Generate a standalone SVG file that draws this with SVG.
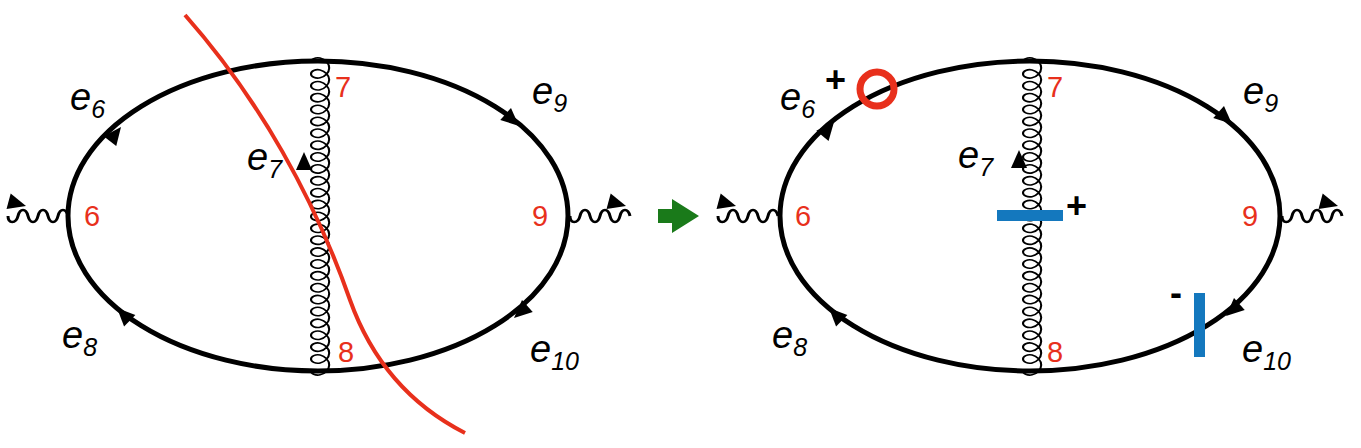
<svg xmlns="http://www.w3.org/2000/svg" width="1361" height="448" viewBox="0 0 1361 448">
<style>
.ln{fill:none;stroke:#000;stroke-width:5}
.gl{fill:none;stroke:#000;stroke-width:1.6}
.ph{fill:none;stroke:#000;stroke-width:3}
.e{font-family:"Liberation Sans",Arial,sans-serif;font-style:italic;font-size:38px;fill:#000}
.s{font-size:25px}
.n{font-family:"Liberation Sans",Arial,sans-serif;font-size:29px;fill:#e8301c}
.pm{font-family:"Liberation Sans",Arial,sans-serif;font-weight:bold;font-size:36px;fill:#000}
</style>
<defs>
<path id="coil" class="gl" d="M0,0
c0,-2.67 3.33,-5 7,-4 c3.67,1 7,5.34 7,10 c0,4.66 -3.33,9 -7,10 c-3.67,1 -7,-1.33 -7,-4
c0,-2.67 3.33,-5 7,-4 c3.67,1 7,5.34 7,10 c0,4.66 -3.33,9 -7,10 c-3.67,1 -7,-1.33 -7,-4
c0,-2.67 3.33,-5 7,-4 c3.67,1 7,5.34 7,10 c0,4.66 -3.33,9 -7,10 c-3.67,1 -7,-1.33 -7,-4
c0,-2.67 3.33,-5 7,-4 c3.67,1 7,5.34 7,10 c0,4.66 -3.33,9 -7,10 c-3.67,1 -7,-1.33 -7,-4
c0,-2.67 3.33,-5 7,-4 c3.67,1 7,5.34 7,10 c0,4.66 -3.33,9 -7,10 c-3.67,1 -7,-1.33 -7,-4
c0,-2.67 3.33,-5 7,-4 c3.67,1 7,5.34 7,10 c0,4.66 -3.33,9 -7,10 c-3.67,1 -7,-1.33 -7,-4
c0,-2.67 3.33,-5 7,-4 c3.67,1 7,5.34 7,10 c0,4.66 -3.33,9 -7,10 c-3.67,1 -7,-1.33 -7,-4
c0,-2.67 3.33,-5 7,-4 c3.67,1 7,5.34 7,10 c0,4.66 -3.33,9 -7,10 c-3.67,1 -7,-1.33 -7,-4
c0,-2.67 3.33,-5 7,-4 c3.67,1 7,5.34 7,10 c0,4.66 -3.33,9 -7,10 c-3.67,1 -7,-1.33 -7,-4
c0,-2.67 3.33,-5 7,-4 c3.67,1 7,5.34 7,10 c0,4.66 -3.33,9 -7,10 c-3.67,1 -7,-1.33 -7,-4
c0,-2.67 3.33,-5 7,-4 c3.67,1 7,5.34 7,10 c0,4.66 -3.33,9 -7,10 c-3.67,1 -7,-1.33 -7,-4
c0,-2.67 3.33,-5 7,-4 c3.67,1 7,5.34 7,10 c0,4.66 -3.33,9 -7,10 c-3.67,1 -7,-1.33 -7,-4
c0,-2.67 3.33,-5 7,-4 c3.67,1 7,5.34 7,10 c0,4.66 -3.33,9 -7,10 c-3.67,1 -7,-1.33 -7,-4
c0,-2.67 3.33,-5 7,-4 c3.67,1 7,5.34 7,10 c0,4.66 -3.33,9 -7,10 c-3.67,1 -7,-1.33 -7,-4
c0,-2.67 3.33,-5 7,-4 c3.67,1 7,5.34 7,10 c0,4.66 -3.33,9 -7,10 c-3.67,1 -7,-1.33 -7,-4
c0,-2.67 3.33,-5 7,-4 c3.67,1 7,5.34 7,10 c0,4.66 -3.33,9 -7,10 c-3.67,1 -7,-1.33 -7,-4
c0,-2.67 3.33,-5 7,-4 c3.67,1 7,5.34 7,10 c0,4.66 -3.33,9 -7,10 c-3.67,1 -7,-1.33 -7,-4
c0,-2.67 3.33,-5 7,-4 c3.67,1 7,5.34 7,10 c0,4.66 -3.33,9 -7,10 c-3.67,1 -7,-1.33 -7,-4
c0,-2.67 3.33,-5 7,-4 c3.67,1 7,5.34 7,10 c0,4.66 -3.33,9 -7,10 c-3.67,1 -7,-1.33 -7,-4
c0,-2.67 3.33,-5 7,-4 c3.67,1 7,5.34 7,10 c0,4.66 -3.33,9 -7,10 c-3.67,1 -7,-1.33 -7,-4
c0,-2.67 3.33,-5 7,-4 c3.67,1 7,5.34 7,10 c0,4.66 -3.33,9 -7,10 c-3.67,1 -7,-1.33 -7,-4
c0,-2.67 3.33,-5 7,-4 c3.67,1 7,5.34 7,10 c0,4.66 -3.33,9 -7,10 c-3.67,1 -7,-1.33 -7,-4
c0,-2.67 3.33,-5 7,-4 c3.67,1 7,5.34 7,10 c0,4.66 -3.33,9 -7,10 c-3.67,1 -7,-1.33 -7,-4
c0,-2.67 3.33,-5 7,-4 c3.67,1 7,5.34 7,10 c0,4.66 -3.33,9 -7,10 c-3.67,1 -7,-1.33 -7,-4
c0,-2.67 3.33,-5 7,-4 c3.67,1 7,5.34 7,10 c0,4.66 -3.33,9 -7,10 c-3.67,1 -7,-1.33 -7,-4
c0,-2.67 3.33,-5 7,-4 c3.67,1 7,5.34 7,10 c0,4.66 -3.33,9 -7,10 c-3.67,1 -7,-1.33 -7,-4"/>
<path id="wave" class="ph" d="M0,0 c0,10 8,10 10,0 c2,-10 8,-10 10,0 c2,10 8,10 10,0 c2,-10 8,-10 10,0 c2,10 8,10 10,0 c2,-10 8,-10 10,0"/>
<path id="ah" d="M0,0 L-18,-8 L-18,8 Z" fill="#000"/>
</defs>
<g id="connectors">
<ellipse class="ln" cx="318" cy="216" rx="250" ry="155"/>
<ellipse class="ln" cx="1030" cy="216" rx="250" ry="155"/>
<path d="M311,62 V372 M1023,62 V372" fill="none" stroke="#000" stroke-width="0"/>
<use href="#coil" transform="translate(311,62) scale(1.3,0.99)"/>
<use href="#coil" transform="translate(1023,62) scale(1.3,0.99)"/>
<use href="#wave" transform="translate(8,216) scale(1,0.8)"/>
<use href="#wave" transform="translate(570,216) scale(1,0.8)"/>
<use href="#wave" transform="translate(718,216) scale(1,0.8)"/>
<use href="#wave" transform="translate(1282,216) scale(1,0.8)"/>
<use href="#ah" transform="translate(26,206) rotate(15)"/>
<use href="#ah" transform="translate(626,206) rotate(15)"/>
<use href="#ah" transform="translate(736,206) rotate(15)"/>
<use href="#ah" transform="translate(1338,206) rotate(15)"/>
<use href="#ah" transform="translate(121,127) rotate(-52)"/>
<use href="#ah" transform="translate(519,126) rotate(42)"/>
<use href="#ah" transform="translate(514,318) rotate(138)"/>
<use href="#ah" transform="translate(117,308) rotate(-135)"/>
<use href="#ah" transform="translate(304,152) rotate(-90)"/>
<use href="#ah" transform="translate(834,122) rotate(-50)"/>
<use href="#ah" transform="translate(1232,124) rotate(42)"/>
<use href="#ah" transform="translate(1226,316) rotate(138)"/>
<use href="#ah" transform="translate(829,308) rotate(-135)"/>
<use href="#ah" transform="translate(1019,150) rotate(-90)"/>
<path d="M185,15 C260,100 315,200 350,300 C375,370 420,410 465,433" fill="none" stroke="#e8301c" stroke-width="4"/>
<polygon points="658,209 672,209 672,199 699,216 672,233 672,223 658,223" fill="#1a7a1a"/>
</g>
<g id="labels-left">
<text class="e" x="70" y="110">e<tspan class="s" dy="8">6</tspan></text>
<text class="e" x="532" y="104">e<tspan class="s" dy="8">9</tspan></text>
<text class="e" x="247" y="170">e<tspan class="s" dy="8">7</tspan></text>
<text class="e" x="62" y="348">e<tspan class="s" dy="8">8</tspan></text>
<text class="e" x="530" y="362">e<tspan class="s" dy="8">10</tspan></text>
<text class="n" x="84" y="226">6</text>
<text class="n" x="335" y="97">7</text>
<text class="n" x="532" y="226">9</text>
<text class="n" x="338" y="362">8</text>
</g>
<g id="labels-right">
<text class="e" x="780" y="110">e<tspan class="s" dy="8">6</tspan></text>
<text class="e" x="1243" y="104">e<tspan class="s" dy="8">9</tspan></text>
<text class="e" x="958" y="168">e<tspan class="s" dy="8">7</tspan></text>
<text class="e" x="772" y="348">e<tspan class="s" dy="8">8</tspan></text>
<text class="e" x="1242" y="362">e<tspan class="s" dy="8">10</tspan></text>
<text class="n" x="795" y="226">6</text>
<text class="n" x="1047" y="97">7</text>
<text class="n" x="1242" y="226">9</text>
<text class="n" x="1047" y="362">8</text>
</g>
<g id="marks">
<circle cx="877" cy="89" r="17" fill="none" stroke="#e8301c" stroke-width="7"/>
<text class="pm" x="825" y="92">+</text>
<rect x="997" y="210" width="66" height="11" fill="#1478be"/>
<text class="pm" x="1066" y="218">+</text>
<rect x="1194" y="293" width="11" height="64" fill="#1478be"/>
<text class="pm" x="1170" y="305">-</text>
</g>
</svg>
